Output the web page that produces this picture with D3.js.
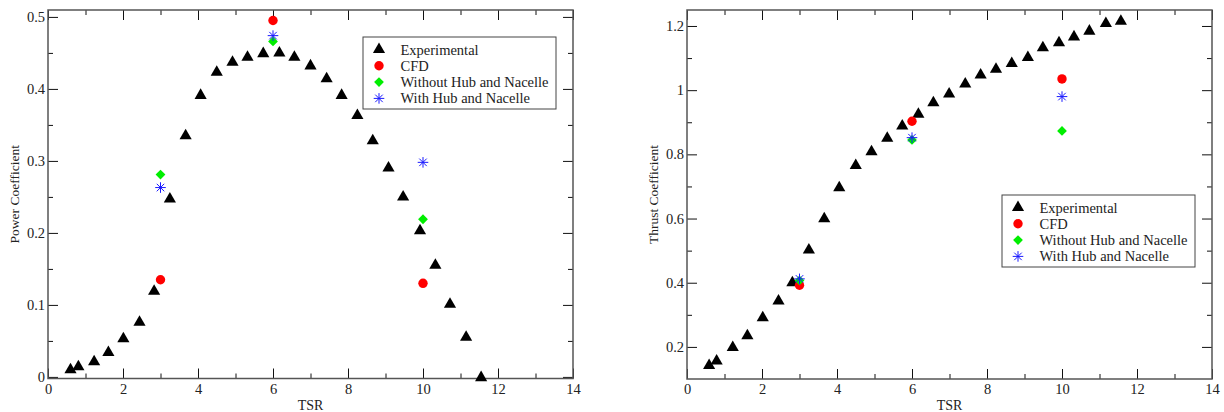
<!DOCTYPE html>
<html>
<head>
<meta charset="utf-8">
<script src="https://cdn.jsdelivr.net/npm/d3@7"></script>
<style>
  body { margin: 0; background: #fff; }
  svg { display: block; font-family: "Liberation Serif", "DejaVu Serif", serif; }
</style>
</head>
<body>
<svg id="chart" width="1224" height="412"></svg>
<script>
// ---- data ----
const seriesNames = ["Experimental", "CFD", "Without Hub and Nacelle", "With Hub and Nacelle"];

const powerExpTSR = [0.6, 0.81, 1.23, 1.61, 2.01, 2.44, 2.83, 3.25, 3.67, 4.07, 4.5, 4.92, 5.32, 5.74, 6.17,
    6.57, 7.0, 7.43, 7.83, 8.25, 8.66, 9.08, 9.47, 9.92, 10.33, 10.72, 11.15, 11.55];
const powerExpCp = [0.01, 0.014, 0.021, 0.034, 0.053, 0.076, 0.119, 0.247, 0.335, 0.391, 0.423, 0.437, 0.444, 0.449, 0.45,
    0.444, 0.432, 0.414, 0.391, 0.363, 0.328, 0.29, 0.25, 0.203, 0.155, 0.101, 0.055, -0.001];

const simTSR = [3, 6, 10];
const powerCFD = [0.135, 0.495, 0.13];
const powerNoHub = [0.281, 0.466, 0.219];
const powerHub = [0.263, 0.474, 0.298];

const thrustExpTSR = [0.59, 0.79, 1.22, 1.61, 2.02, 2.44, 2.81, 3.25, 3.66, 4.06, 4.5, 4.92, 5.34, 5.74, 6.17,
    6.57, 6.99, 7.42, 7.83, 8.24, 8.66, 9.09, 9.49, 9.92, 10.32, 10.73, 11.17, 11.57];
const thrustExpCt = [0.142, 0.156, 0.198, 0.235, 0.291, 0.343, 0.4, 0.502, 0.599, 0.696, 0.765, 0.808, 0.85, 0.888, 0.925,
    0.961, 0.988, 1.019, 1.047, 1.065, 1.083, 1.102, 1.132, 1.148, 1.166, 1.184, 1.208, 1.215];

const thrustCFD = [0.392, 0.903, 1.035];
const thrustNoHub = [0.407, 0.845, 0.873];
const thrustHub = [0.412, 0.852, 0.98];

const xTicks = [0, 2, 4, 6, 8, 10, 12, 14];
const xMinor = [1, 3, 5, 7, 9, 11, 13];
const powerTicks = [0, 0.1, 0.2, 0.3, 0.4, 0.5];
const powerMinor = [0.05, 0.15, 0.25, 0.35, 0.45];
const thrustTicks = [0.2, 0.4, 0.6, 0.8, 1.0, 1.2];
const thrustMinor = [0.3, 0.5, 0.7, 0.9, 1.1];

// ---- symbols ----
const starPath = (r) => {
    let p = "";
    for (let i = 0; i < 4; i++) {
        const a = i * Math.PI / 4;
        const dx = r * Math.cos(a), dy = r * Math.sin(a);
        p += `M${-dx},${-dy}L${dx},${dy}`;
    }
    return p;
};

const styles = [
    { draw: g => g.append("path").attr("d", d3.symbol(d3.symbolTriangle, 64)()).attr("fill", "#000") },
    { draw: g => g.append("circle").attr("r", 4.7).attr("fill", "#ff0000") },
    { draw: g => g.append("path").attr("d", d3.symbol(d3.symbolSquare, 48)()).attr("transform", "rotate(45)").attr("fill", "#00ee00") },
    { draw: g => g.append("path").attr("d", starPath(5.3)).attr("stroke", "#1a1aff").attr("stroke-width", 1).attr("fill", "none") }
];

const svg = d3.select("#chart");

function panel(opt) {
    const x = d3.scaleLinear().domain([0, 14]).range([opt.left, opt.right]);
    const y = d3.scaleLinear().domain(opt.yDomain).range([opt.bottom, opt.top]);
    const g = svg.append("g");

    const fmt = d => d3.format("~g")(d);

    // minor ticks
    g.append("g").attr("transform", `translate(0,${opt.bottom})`)
        .call(d3.axisBottom(x).tickValues(xMinor).tickSize(-5).tickFormat(""));
    g.append("g").attr("transform", `translate(0,${opt.top})`)
        .call(d3.axisTop(x).tickValues(xMinor).tickSize(-5).tickFormat(""));
    g.append("g").attr("transform", `translate(${opt.left},0)`)
        .call(d3.axisLeft(y).tickValues(opt.yMinor).tickSize(-5).tickFormat(""));
    g.append("g").attr("transform", `translate(${opt.right},0)`)
        .call(d3.axisRight(y).tickValues(opt.yMinor).tickSize(-5).tickFormat(""));

    // major ticks + labels
    g.append("g").attr("class", "lab").attr("transform", `translate(0,${opt.bottom})`)
        .call(d3.axisBottom(x).tickValues(xTicks).tickSize(-10).tickPadding(5).tickFormat(fmt));
    g.append("g").attr("transform", `translate(0,${opt.top})`)
        .call(d3.axisTop(x).tickValues(xTicks).tickSize(-10).tickFormat(""));
    g.append("g").attr("class", "lab").attr("transform", `translate(${opt.left},0)`)
        .call(d3.axisLeft(y).tickValues(opt.yTicks).tickSize(-10).tickPadding(3).tickFormat(fmt));
    g.append("g").attr("transform", `translate(${opt.right},0)`)
        .call(d3.axisRight(y).tickValues(opt.yTicks).tickSize(-10).tickFormat(""));

    g.selectAll(".domain").remove();
    g.selectAll(".tick line").attr("stroke", "#111").attr("stroke-width", 1);
    g.selectAll(".lab text").attr("font-family", "Liberation Serif").attr("font-size", 14.5).attr("fill", "#222");

    // frame
    g.append("rect")
        .attr("x", opt.left).attr("y", opt.top)
        .attr("width", opt.right - opt.left).attr("height", opt.bottom - opt.top)
        .attr("fill", "none").attr("stroke", "#555").attr("stroke-width", 1.5);

    // axis titles
    g.append("text")
        .attr("x", (opt.left + opt.right) / 2).attr("y", 410)
        .attr("text-anchor", "middle").attr("font-size", 14).attr("fill", "#222")
        .text("TSR");
    g.append("text")
        .attr("transform", `translate(${opt.left - 29},${(opt.top + opt.bottom) / 2}) rotate(-90)`)
        .attr("text-anchor", "middle").attr("font-size", 13.5).attr("fill", "#222")
        .text(opt.yTitle);

    // points
    const sets = [
        { xs: opt.expX, ys: opt.expY },
        { xs: simTSR, ys: opt.cfd },
        { xs: simTSR, ys: opt.noHub },
        { xs: simTSR, ys: opt.hub }
    ];
    sets.forEach((s, i) => {
        s.xs.forEach((xv, j) => {
            const p = g.append("g").attr("transform", `translate(${x(xv)},${y(s.ys[j])})`);
            styles[i].draw(p);
        });
    });

    // legend
    const lg = g.append("g").attr("transform", `translate(${opt.legend[0]},${opt.legend[1]})`);
    lg.append("rect").attr("width", 193).attr("height", 72)
        .attr("fill", "#fff").attr("stroke", "#444").attr("stroke-width", 1);
    seriesNames.forEach((name, i) => {
        const ry = 12.5 + i * 16.3;
        styles[i].draw(lg.append("g").attr("transform", `translate(16,${ry})`));
        lg.append("text").attr("x", 37.5).attr("y", ry + 5)
            .attr("font-size", 14.5).attr("fill", "#222").text(name);
    });
}

panel({
    left: 48, right: 573, top: 10, bottom: 378.5,
    yDomain: [-0.0022, 0.5096], yTicks: powerTicks, yMinor: powerMinor,
    yTitle: "Power Coefficient",
    expX: powerExpTSR, expY: powerExpCp,
    cfd: powerCFD, noHub: powerNoHub, hub: powerHub,
    legend: [363, 37]
});

panel({
    left: 687, right: 1212, top: 10, bottom: 379,
    yDomain: [0.1, 1.2498], yTicks: thrustTicks, yMinor: thrustMinor,
    yTitle: "Thrust Coefficient",
    expX: thrustExpTSR, expY: thrustExpCt,
    cfd: thrustCFD, noHub: thrustNoHub, hub: thrustHub,
    legend: [1002, 195]
});
</script>
</body>
</html>
